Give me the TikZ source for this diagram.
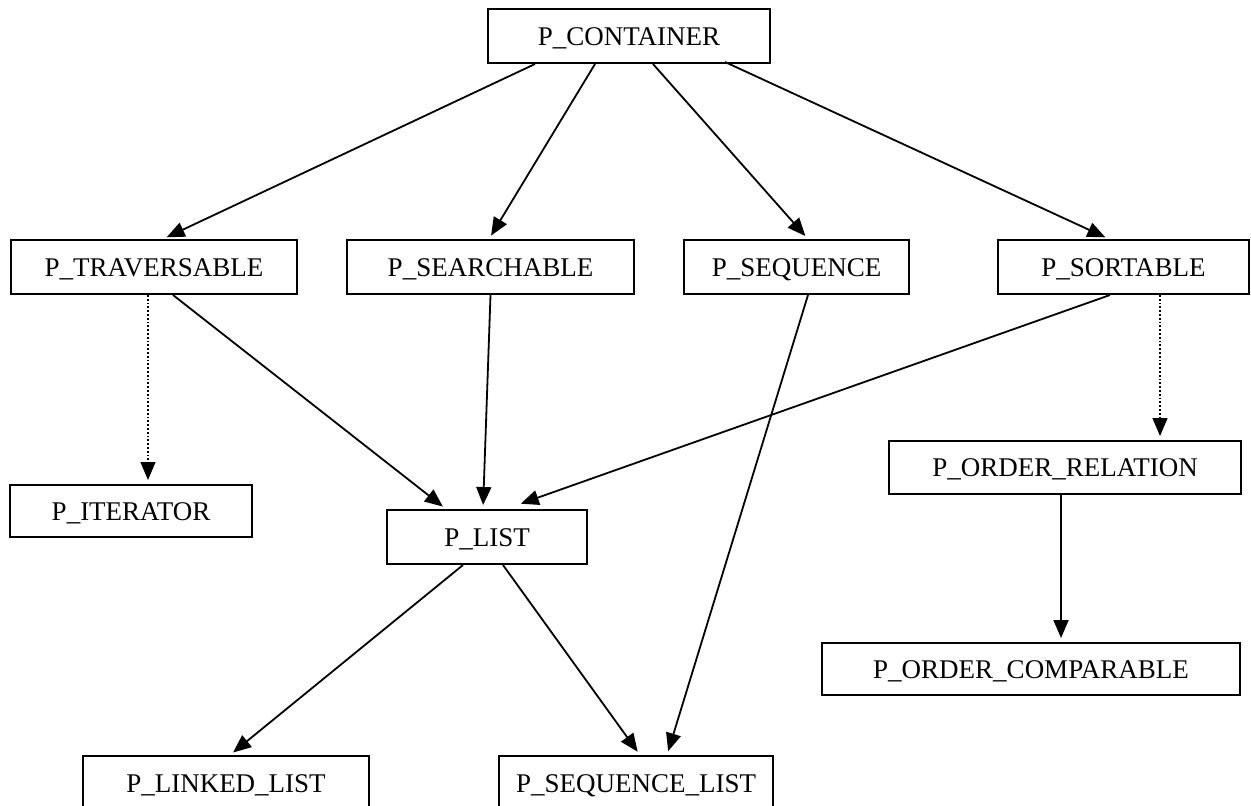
\documentclass[tikz,border=0pt]{standalone}
\usepackage{fontspec}
\setmainfont{Liberation Serif}
\usetikzlibrary{calc,arrows.meta}

\begin{document}
\begin{tikzpicture}[x=0.5pt,y=0.5pt,
  box/.style={draw,line width=1pt,inner sep=0pt,minimum height=27pt,text height=9pt,text depth=0pt,font=\fontsize{13.5}{15}\selectfont},
  arr/.style={-{Triangle[length=9pt,width=7.5pt]},line width=0.9pt,shorten >=2pt},
  dotarr/.style={arr,densely dotted,line width=0.6pt}]
\useasboundingbox (0,0) rectangle (1251,-805);
\clip (0,0) rectangle (1251,-805);

\node[box,minimum width=141pt] (cont) at (629,-36) {P\_CONTAINER};

\node[box,minimum width=143pt] (trav) at (154,-267) {P\_TRAVERSABLE};
\node[box,minimum width=143.5pt] (srch) at (490.5,-267) {P\_SEARCHABLE};
\node[box,minimum width=112.5pt] (seq) at (796.5,-267) {P\_SEQUENCE};
\node[box,minimum width=125.5pt] (sort) at (1123.5,-267) {P\_SORTABLE};

\node[box,minimum width=121pt,minimum height=26pt] (iter) at (131,-511) {P\_ITERATOR};
\node[box,minimum width=100pt] (list) at (487,-537) {P\_LIST};
\node[box,minimum width=176pt,minimum height=26.5pt] (ordrel) at (1065,-467.5) {P\_ORDER\_RELATION};
\node[box,minimum width=209pt,minimum height=26pt] (ordcmp) at (1031,-669) {P\_ORDER\_COMPARABLE};

\node[box,minimum width=143pt] (lnk) at (226,-783) {P\_LINKED\_LIST};
\node[box,minimum width=137pt] (seqlst) at (636,-783) {P\_SEQUENCE\_LIST};

% from P_CONTAINER
\draw[arr] ($(cont.south)+(-94,0)$) -- ($(trav.north)+(9,0)$);
\draw[arr] ($(cont.south)+(-34,0)$) -- ($(srch.north)+(-1.5,0)$);
\draw[arr] ($(cont.south)+(24,0)$) -- ($(seq.north)+(11.5,0)$);
\draw[arr] ($(cont.south)+(96,2)$) -- ($(sort.north)+(-14.5,0)$);

% second row
\draw[dotarr] ($(trav.south)+(-6,0)$) -- ($(iter.north)+(17,0)$);
\draw[arr] ($(trav.south)+(19,0)$) -- ($(list.north)+(-41,0)$);
\draw[arr] (srch.south) -- ($(list.north)+(-4,0)$);
\draw[arr] ($(sort.south)+(-13.5,0)$) -- ($(list.north)+(30,4)$);
\draw[arr] ($(seq.south)+(11.5,0)$) -- ($(seqlst.north)+(31,0)$);
\draw[dotarr] ($(sort.south)+(36.5,0)$) -- ($(ordrel.north)+(95,0)$);

% lower part
\draw[arr] ($(list.south)+(-24,0)$) -- ($(lnk.north)+(4,0)$);
\draw[arr] ($(list.south)+(16,0)$) -- ($(seqlst.north)+(4,0)$);
\draw[arr] ($(ordrel.south)+(-4,0)$) -- ($(ordcmp.north)+(30,0)$);
\end{tikzpicture}
\end{document}
